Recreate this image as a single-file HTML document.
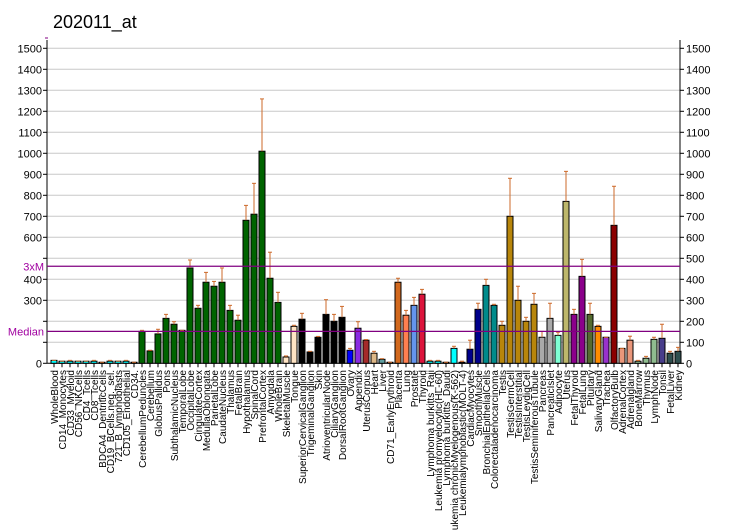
<!DOCTYPE html>
<html><head><meta charset="utf-8"><style>
body{margin:0;background:#fff;font-family:"Liberation Sans",Arial,sans-serif}
</style></head><body>
<svg id="chart" width="732" height="530" xmlns="http://www.w3.org/2000/svg" style="display:block"></svg>
<script>
const categories=["WholeBlood","CD14_Monocytes","CD33_Myeloid","CD56_NKCells","CD4_Tcells","CD8_Tcells","BDCA4_DentriticCells","CD19_BCells.neg._sel.","721_B_lymphoblasts","CD105_Endothelial","CD34.","CerebellumPeduncles","Cerebellum","GlobusPallidus","Pons","SubthalamicNucleus","TemporalLobe","OccipitalLobe","CingulateCortex","MedullaOblongata","ParietalLobe","CaudateNucleus","Thalamus","FetalBrain","Hypothalamus","SpinalCord","PrefrontalCortex","Amygdala","WholeBrain","SkeletalMuscle","Tongue","SuperiorCervicalGanglion","TrigeminalGanglion","Skin","AtrioventricularNode","CiliaryGanglion","DorsalRootGanglion","Ovary","Appendix","UterusCorpus","Heart","Liver","CD71_EarlyErythroid","Placenta","Lung","Prostate","Thyroid","Lymphoma burkitts_Raji","Leukemia promyelocytic(HL-60)","Lymphoma burkitts_Daudi","Leukemia chronicMyelogenous(K-562)","Leukemialymphoblastic(MOLT-4)","CardiacMyocytes","SmoothMuscle","BronchialEpithelialCells","Colorectaladenocarcinoma","Testis","TestisGermCell","TestisInterstitial","TestisLeydigCell","TestisSeminiferousTubule","Pancreas","PancreaticIslet","Adipocyte","Uterus","FetalThyroid","FetalLung","Pituitary","SalivaryGland","Trachea","OlfactoryBulb","AdrenalCortex","Adrenalgland","BoneMarrow","Thymus","LymphNode","Tonsil","FetalLiver","Kidney"];
const values=[14,10,10,10,10,10,5,10,10,10,5,152,59,140,214,186,157,454,262,386,367,386,252,205,681,710,1010,405,290,30,176,210,54,124,233,200,219,62,167,110,48,19,5,386,229,276,329,10,10,5,71,5,67,257,371,276,181,700,300,200,281,124,214,133,771,233,414,233,176,124,657,71,110,10,24,114,119,48,57];
const errTops=[14,10,14,10,10,14,5,14,10,14,5,157,62,162,233,198,157,492,276,433,390,454,276,229,752,857,1259,529,338,35,181,238,57,128,303,233,271,71,198,113,57,22,5,405,252,314,352,14,14,5,81,10,110,286,400,281,200,881,367,219,333,152,286,148,914,257,495,286,181,124,843,71,129,14,33,124,186,57,76];
const colors=["#00FFFF","#00FFFF","#00FFFF","#00FFFF","#00FFFF","#00FFFF","#000000","#00FFFF","#00FFFF","#00FFFF","#000000","#006400","#006400","#006400","#006400","#006400","#006400","#006400","#006400","#006400","#006400","#006400","#006400","#006400","#006400","#006400","#006400","#006400","#006400","#FFE4C4","#FFE4C4","#000000","#000000","#000000","#000000","#000000","#000000","#0000FF","#8A2BE2","#A52A2A","#DEB887","#5F9EA0","#000000","#D2691E","#FF7F50","#6495ED","#DC143C","#00FFFF","#00FFFF","#000000","#00FFFF","#000000","#00008B","#00008B","#008B8B","#008B8B","#B8860B","#B8860B","#B8860B","#B8860B","#B8860B","#A9A9A9","#A9A9A9","#7FFFD4","#BDB76B","#8B008B","#8B008B","#556B2F","#FF8C00","#9932CC","#8B0000","#E9967A","#E9967A","#8FBC8F","#8FBC8F","#8FBC8F","#483D8B","#2F4F4F","#2F4F4F"];
const yTicks=[0,100,200,300,400,500,600,700,800,900,1000,1100,1200,1300,1400,1500];
const median=152, threeXM=462;

const svg=document.getElementById('chart');
const NS="http://www.w3.org/2000/svg";
const X0=47,X1=680,Y0=363.3,PX=0.21;
const y=v=>Y0-v*PX;
const xc=i=>54+8*i;
function mk(tag,attrs,parent){const e=document.createElementNS(NS,tag);for(const k in attrs)e.setAttribute(k,attrs[k]);(parent||svg).appendChild(e);return e;}

const title=mk('text',{x:53,y:28,'font-size':18,fill:'#000'});
title.textContent='202011_at';



yTicks.forEach(t=>{
  if(t===0)return;
  const g=mk('line',{x1:X0,x2:X1,y1:y(t),y2:y(t),stroke:'#c8c8c8','stroke-width':1});
  
  
});
const la=mk('line',{x1:X0,x2:X0,y1:40,y2:Y0,stroke:'#000'});


const ra=mk('line',{x1:X1,x2:X1,y1:40,y2:Y0,stroke:'#000'});


const xa=mk('line',{x1:X0,x2:X1,y1:Y0,y2:Y0,stroke:'#000'});



yTicks.forEach(t=>{
  mk('line',{x1:X0-4,x2:X0,y1:y(t),y2:y(t),stroke:'#000'});
  mk('line',{x1:X1,x2:X1+4,y1:y(t),y2:y(t),stroke:'#000'});
  const skipLeft=(t===500||t===100||t===200);
  if(!skipLeft){
    const l=mk('text',{x:X0-5,y:y(t)+4,'font-size':11,'text-anchor':'end'});
    l.textContent=t;
    
    
  }
  const r=mk('text',{x:X1+6,y:y(t)+4,'font-size':11});
  r.textContent=t;
  
  
});
mk('line',{x1:X0-2,x2:X0+1,y1:38,y2:38,stroke:'#800080'});

categories.forEach((c,i)=>{
  const top=y(values[i]);
  const b=mk('rect',{x:xc(i)-3,y:top,width:6,height:Math.max(Y0-top,0.5),fill:colors[i],stroke:'#000','stroke-width':1});
  
  
  if(errTops[i]>values[i]){
    const e=mk('line',{x1:xc(i),x2:xc(i),y1:y(errTops[i]),y2:top,stroke:'#CD6A2A'});
    
    
  }
  mk('line',{x1:xc(i)-2,x2:xc(i)+2,y1:y(errTops[i]),y2:y(errTops[i]),stroke:'#CD6A2A'});
  mk('line',{x1:xc(i),x2:xc(i),y1:Y0,y2:Y0+4,stroke:'#000'});
  const t=mk('text',{transform:`translate(${xc(i)+4},370) rotate(-90)`,'font-size':10,'text-anchor':'end'});
  t.textContent=c;
  
  
});

[[threeXM,'3xM','three-x-median-line'],[median,'Median','median-line']].forEach(([v,lab,n])=>{
  const l=mk('line',{x1:X0,x2:X1,y1:y(v),y2:y(v),stroke:'#800080','stroke-width':1.2});
  
  
  const tx=mk('text',{x:X0-3,y:y(v)+4,'font-size':11,'text-anchor':'end',fill:'#a000a0'});
  tx.textContent=lab;
  
  
});
</script>
</body></html>
